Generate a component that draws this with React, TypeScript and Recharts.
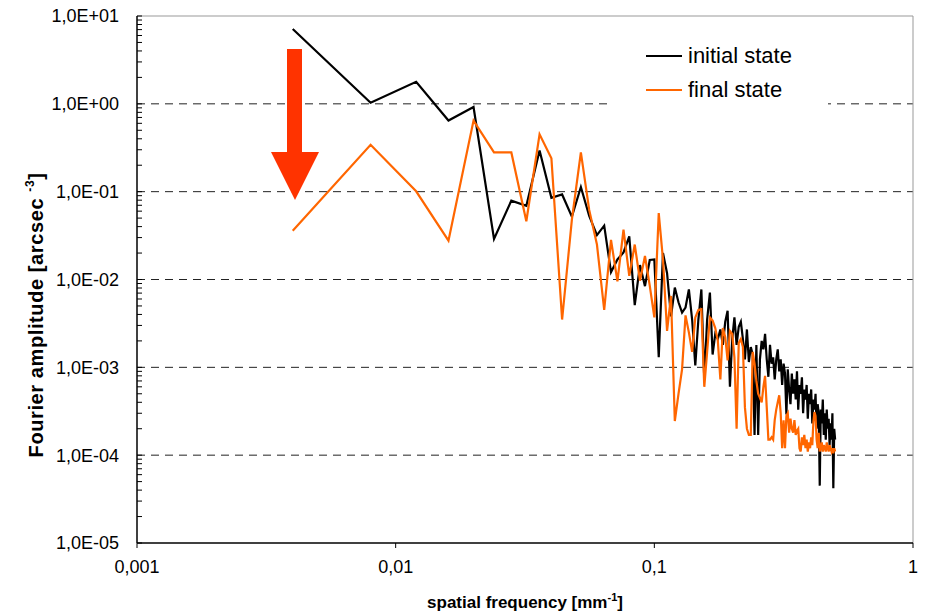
import React from 'react';
import { LineChart, Line, XAxis, YAxis, ReferenceLine, Legend } from 'recharts';

// spatial frequency [mm^-1]
const frequency = [
  0.004, 0.008, 0.012, 0.016, 0.02, 0.024, 0.028, 0.032, 0.036, 0.04,
  0.044, 0.048, 0.052, 0.056, 0.06, 0.064, 0.068, 0.072, 0.076, 0.08,
  0.084, 0.088, 0.092, 0.096, 0.1, 0.104, 0.108, 0.112, 0.116, 0.12,
  0.124, 0.128, 0.132, 0.136, 0.14, 0.144, 0.148, 0.152, 0.156, 0.16,
  0.164, 0.168, 0.172, 0.176, 0.18, 0.184, 0.188, 0.192, 0.196, 0.2,
  0.204, 0.208, 0.212, 0.216, 0.22, 0.224, 0.228, 0.232, 0.236, 0.24,
  0.244, 0.248, 0.252, 0.256, 0.26, 0.264, 0.268, 0.272, 0.276, 0.28,
  0.284, 0.288, 0.292, 0.296, 0.3, 0.304, 0.308, 0.312, 0.316, 0.32,
  0.324, 0.328, 0.332, 0.336, 0.34, 0.344, 0.348, 0.352, 0.356, 0.36,
  0.364, 0.368, 0.372, 0.376, 0.38, 0.384, 0.388, 0.392, 0.396, 0.4,
  0.404, 0.408, 0.412, 0.416, 0.42, 0.424, 0.428, 0.432, 0.436, 0.44,
  0.444, 0.448, 0.452, 0.456, 0.46, 0.464, 0.468, 0.472, 0.476, 0.48,
  0.484, 0.488, 0.492, 0.496, 0.5,
];

const initialState = [
  7.1, 1.03, 1.78, 0.645, 0.92, 0.029, 0.079, 0.069, 0.295, 0.085,
  0.093, 0.052, 0.113, 0.053, 0.032, 0.041, 0.0121, 0.0169, 0.0203, 0.031,
  0.0051, 0.0146, 0.0084, 0.0167, 0.0169, 0.0013, 0.02, 0.0118, 0.0038, 0.0081,
  0.0055, 0.0042, 0.0048, 0.0077, 0.0035, 0.00105, 0.0035, 0.0077, 0.00073, 0.0035,
  0.0071, 0.0014, 0.0024, 0.0021, 0.0027, 0.0018, 0.0033, 0.0044, 0.0006, 0.0021,
  0.0037, 0.0018, 0.0029, 0.0033, 0.0021, 0.00123, 0.0027, 0.00115, 0.0017, 0.0014,
  0.00017, 0.0018, 0.00017, 0.00123, 0.002, 0.0016, 0.0024, 0.00123, 0.00078, 0.0018,
  0.0011, 0.0013, 0.00073, 0.00123, 0.0016, 0.0009, 0.00123, 0.00063, 0.0011, 0.00085,
  0.00029, 0.00095, 0.00056, 0.00038, 0.00085, 0.0005, 0.00073, 0.00043, 0.0009, 0.00033,
  0.00063, 0.0005, 0.00077, 0.0003, 0.00056, 0.00043, 0.00063, 0.00026, 0.0005, 0.00038,
  0.00056, 0.00023, 0.00043, 0.00033, 0.0005, 0.0002, 0.00038, 0.0003, 0.000045, 0.00033,
  0.00023, 0.00043, 0.00017, 0.0003, 0.00015, 0.00033, 0.0002, 0.00026, 0.00013, 0.00023,
  0.00015, 0.0003, 0.000042, 0.0002, 0.00015,
];

const finalState = [
  0.036, 0.342, 0.101, 0.0277, 0.645, 0.28, 0.28, 0.046, 0.45, 0.24,
  0.0035, 0.048, 0.28, 0.062, 0.025, 0.0045, 0.0283, 0.0095, 0.037, 0.011,
  0.025, 0.0097, 0.0185, 0.0085, 0.0037, 0.057, 0.0169, 0.0026, 0.0065, 0.000245,
  0.0005, 0.00095, 0.0039, 0.0025, 0.0015, 0.0037, 0.0045, 0.0046, 0.0006, 0.0015,
  0.0037, 0.0034, 0.0028, 0.002, 0.00073, 0.0028, 0.0022, 0.0012, 0.0026, 0.0024,
  0.0013, 0.0002, 0.0019, 0.0021, 0.0017, 0.00035, 0.0002, 0.00017, 0.00017, 0.0015,
  0.0011, 0.0007, 0.0005, 0.00045, 0.0004, 0.0006, 0.0008, 0.00035, 0.00015, 0.00015,
  0.00016, 0.00015, 0.00025, 0.00033, 0.0004, 0.00048, 0.0003, 0.00012, 0.00025, 0.00012,
  0.00028, 0.0003, 0.00018, 0.00026, 0.0002, 0.00018, 0.00025, 0.00017, 0.00019, 0.0002,
  0.00012, 0.00011, 0.00016, 0.00013, 0.00017, 0.00012, 0.00015, 0.00011, 0.00014, 0.00012,
  0.00016, 0.00013, 0.00024, 0.00031, 0.00028, 0.00015, 0.00012, 0.00018, 0.00011, 0.00012,
  0.00014, 0.00011, 0.00013, 0.00012, 0.00011, 0.00014, 0.00012, 0.00011, 0.00013, 0.00012,
  0.00011, 0.00012, 0.000105, 0.00012, 0.00011,
];

const xTicks = [0.001, 0.01, 0.1, 1];
const xTickLabels = ['0,001', '0,01', '0,1', '1'];
const yMajorTicks = [10, 1, 0.1, 0.01, 0.001, 0.0001, 0.00001];
const yTickLabels = ['1,0E+01', '1,0E+00', '1,0E-01', '1,0E-02', '1,0E-03', '1,0E-04', '1,0E-05'];
const gridValues = [1, 0.1, 0.01, 0.001, 0.0001];

const seriesNames = ['initial state', 'final state'];
const seriesColors = ['#000000', '#FF6600'];

const FONT = '"Liberation Sans", Arial, Helvetica, sans-serif';
const WIDTH = 925;
const HEIGHT = 613;
const PLOT_LEFT = 137;

// minor log ticks 2..9 in each decade
const yMinorTicks: number[] = [];
yMajorTicks.slice(1).forEach((d) => {
  for (let m = 2; m <= 9; m++) yMinorTicks.push(m * d);
});
const yTicks = [...yMajorTicks, ...yMinorTicks];

const data = frequency.map((f, i) => ({
  f,
  initial: initialState[i],
  final: finalState[i],
}));

const YTick = (props: any) => {
  const { y, payload } = props;
  const idx = yMajorTicks.indexOf(payload.value);
  return (
    <g>
      <line x1={PLOT_LEFT} x2={PLOT_LEFT + 5} y1={y} y2={y} stroke="#000" strokeWidth={1} />
      {idx >= 0 && (
        <text x={119} y={y} dy="0.36em" textAnchor="end" fontSize={18} fontFamily={FONT} fill="#000">
          {yTickLabels[idx]}
        </text>
      )}
    </g>
  );
};

const XTick = (props: any) => {
  const { x, y, payload } = props;
  const idx = xTicks.indexOf(payload.value);
  return (
    <text x={x} y={y} dy="0.71em" textAnchor="middle" fontSize={18} fontFamily={FONT} fill="#000">
      {xTickLabels[idx]}
    </text>
  );
};

const XTitle = () => (
  <text x={525} y={608} textAnchor="middle" fontSize={17} fontWeight="bold" fontFamily={FONT} fill="#000">
    spatial frequency [mm
    <tspan fontSize={11} dy={-7}>-1</tspan>
    <tspan dy={7}>]</tspan>
  </text>
);

const YTitle = () => (
  <text
    x={36}
    y={315}
    transform="rotate(-90, 36, 315)"
    dy="0.35em"
    textAnchor="middle"
    fontSize={20}
    fontWeight="bold"
    fontFamily={FONT}
    letterSpacing={0.6}
    fill="#000"
  >
    Fourier amplitude [arcsec{' '}
    <tspan fontSize={12} dy={-9}>-3</tspan>
    <tspan dy={9}>]</tspan>
  </text>
);

const LegendBox = () => (
  <div style={{ background: '#fff', width: 215, height: 80, position: 'relative', fontFamily: FONT }}>
    {seriesNames.map((name, i) => (
      <div
        key={name}
        style={{ position: 'absolute', left: 33, top: 13 + i * 34, height: 26, display: 'flex', alignItems: 'center' }}
      >
        <div style={{ width: 36, height: 2, background: seriesColors[i], marginRight: 6 }} />
        <span style={{ fontSize: 22, color: '#000', lineHeight: '26px' }}>{name}</span>
      </div>
    ))}
  </div>
);

export default function App() {
  return (
    <div style={{ position: 'absolute', left: 0, top: 0, width: WIDTH, height: HEIGHT, background: '#fff' }}>
      <LineChart width={WIDTH} height={HEIGHT} data={data} margin={{ top: 16, right: 12, bottom: 0, left: 0 }}>
        {gridValues.map((v) => (
          <ReferenceLine key={v} y={v} stroke="#222" strokeWidth={1} strokeDasharray="8 6" ifOverflow="extendDomain" />
        ))}
        <ReferenceLine y={10} stroke="#999" strokeWidth={1} />
        <ReferenceLine x={1} stroke="#999" strokeWidth={1} />
        <XAxis
          dataKey="f"
          type="number"
          scale="log"
          domain={[0.001, 1]}
          ticks={xTicks}
          interval={0}
          allowDataOverflow
          height={70}
          axisLine={{ stroke: '#000', strokeWidth: 1.5 }}
          tickLine={{ stroke: '#000' }}
          tickSize={5}
          tickMargin={12}
          tick={<XTick />}
          label={<XTitle />}
        />
        <YAxis
          type="number"
          scale="log"
          domain={[0.00001, 10]}
          ticks={yTicks}
          interval={0}
          allowDataOverflow
          width={PLOT_LEFT}
          axisLine={{ stroke: '#000', strokeWidth: 1.5 }}
          tickLine={false}
          tick={<YTick />}
          label={<YTitle />}
        />
        <Line
          type="linear"
          dataKey="initial"
          name={seriesNames[0]}
          stroke={seriesColors[0]}
          strokeWidth={2.2}
          dot={false}
          activeDot={false}
          isAnimationActive={false}
        />
        <Line
          type="linear"
          dataKey="final"
          name={seriesNames[1]}
          stroke={seriesColors[1]}
          strokeWidth={2.2}
          dot={false}
          activeDot={false}
          isAnimationActive={false}
        />
        <Legend
          layout="horizontal"
          verticalAlign="middle"
          align="center"
          content={<LegendBox />}
          wrapperStyle={{ left: 613, top: 30, width: 215, height: 80 }}
        />
      </LineChart>
      {/* red arrow annotation */}
      <svg width={WIDTH} height={HEIGHT} style={{ position: 'absolute', left: 0, top: 0, pointerEvents: 'none' }}>
        <polygon points="287,49 302,49 302,152 319,152 295,200 271,152 287,152" fill="#FF3300" />
      </svg>
    </div>
  );
}
